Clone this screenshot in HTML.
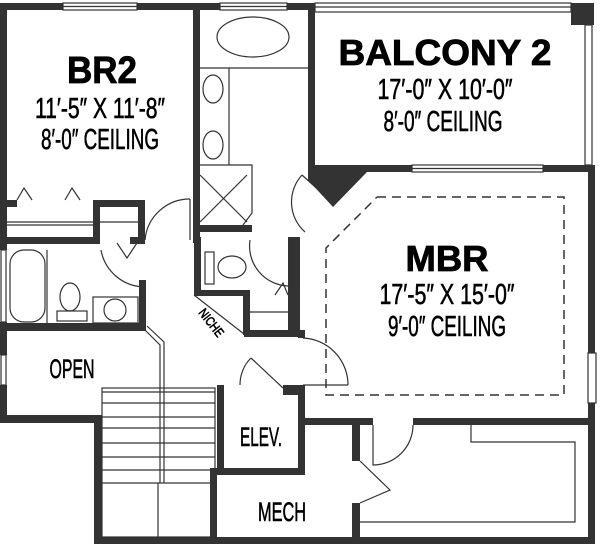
<!DOCTYPE html>
<html><head><meta charset="utf-8"><style>
html,body{margin:0;padding:0;background:#fff;}
svg{display:block;}
text{font-family:"Liberation Sans Narrow","Liberation Sans",sans-serif;fill:#000;stroke:#000;stroke-width:0.6;}
.t{font-weight:bold;font-family:"Liberation Sans",sans-serif;stroke-width:0.8;}
</style></head><body>
<svg width="601" height="548" viewBox="0 0 601 548" xmlns="http://www.w3.org/2000/svg">
<g fill="#333" stroke="none">
<rect x="0" y="3" width="63" height="7"/>
<rect x="137" y="3" width="83" height="7"/>
<rect x="287" y="3" width="27" height="7"/>
<rect x="0" y="3" width="7" height="247"/>
<rect x="0" y="322" width="7" height="33"/>
<rect x="0" y="385" width="7" height="38"/>
<rect x="193" y="3" width="7" height="240"/>
<rect x="194" y="237" width="7" height="58"/>
<rect x="308" y="3" width="7" height="168"/>
<rect x="571" y="3" width="23" height="22"/>
<rect x="308" y="165" width="104" height="7"/>
<rect x="543" y="165" width="52" height="7"/>
<polygon points="308,167 367,172 333,207 308,180"/>
<rect x="588" y="165" width="7" height="188"/>
<rect x="588" y="403" width="7" height="140"/>
<rect x="0" y="200" width="17" height="7"/>
<rect x="93" y="200" width="52" height="7"/>
<rect x="93" y="200" width="7" height="43"/>
<rect x="138" y="200" width="7" height="43"/>
<rect x="0" y="237" width="100" height="7"/>
<rect x="130" y="237" width="15" height="7"/>
<rect x="139" y="280" width="7" height="50"/>
<rect x="0" y="323" width="146" height="8"/>
<rect x="0" y="415" width="102" height="8"/>
<rect x="94" y="415" width="8" height="128"/>
<rect x="94" y="537" width="501" height="7"/>
<rect x="194" y="290" width="50" height="6"/>
<rect x="243" y="290" width="7" height="45"/>
<rect x="244" y="330" width="60" height="7"/>
<rect x="288" y="237" width="12" height="100"/>
<rect x="200" y="225" width="52" height="7"/>
<rect x="298" y="330" width="7" height="8"/>
<rect x="298" y="385" width="7" height="90"/>
<rect x="283" y="385" width="20" height="10"/>
<rect x="217" y="385" width="7" height="90"/>
<rect x="217" y="468" width="87" height="7"/>
<rect x="298" y="418" width="75" height="7"/>
<rect x="413" y="418" width="182" height="7"/>
<rect x="352" y="418" width="8" height="43"/>
<rect x="352" y="503" width="8" height="40"/>
<rect x="210" y="468" width="7" height="75"/>
</g>
<g fill="none" stroke="#333" stroke-width="1.2">
<rect x="63" y="3" width="74" height="7"/><line x1="63" y1="6.5" x2="137" y2="6.5"/>
<rect x="220" y="3" width="67" height="7"/><line x1="220" y1="6.5" x2="287" y2="6.5"/>
<rect x="315" y="3" width="256" height="9"/><line x1="315" y1="7" x2="571" y2="7"/>
<rect x="585" y="25" width="7" height="140"/>
<rect x="412" y="165" width="131" height="7"/><line x1="412" y1="168.5" x2="543" y2="168.5"/>
<rect x="588" y="353" width="8" height="50"/>
<rect x="1" y="250" width="5" height="72"/>
<rect x="1" y="355" width="5" height="30"/>
<line x1="7" y1="222" x2="93" y2="222"/><line x1="7" y1="225" x2="93" y2="225"/>
<line x1="100" y1="222" x2="138" y2="222"/>
<polyline points="17,200 24,188 32,200"/><polyline points="65,200 72,188 80,200"/>
<path d="M145,240 A45,45 0 0 1 190,199"/><line x1="190" y1="199" x2="190" y2="240"/>
<path d="M101,250 A45,45 0 0 0 144,287"/><polyline points="117,243 127,258 137,243"/>
<rect x="10" y="250" width="35" height="72" rx="14"/>
<ellipse cx="70" cy="297" rx="10" ry="14"/><rect x="57" y="311" width="30" height="10"/>
<rect x="93" y="297" width="45" height="26"/><circle cx="115" cy="310" r="11"/>
<line x1="47" y1="250" x2="47" y2="323"/>
<ellipse cx="253" cy="37" rx="36" ry="20"/>
<line x1="200" y1="68" x2="308" y2="68"/>
<line x1="229" y1="68" x2="229" y2="165"/>
<ellipse cx="213" cy="89" rx="10" ry="14"/><ellipse cx="213" cy="145" rx="10" ry="14"/>
<polyline points="200,165 252,165 252,213 243,225"/>
<line x1="200" y1="175" x2="247" y2="222"/><line x1="247" y1="175" x2="200" y2="222"/>
<rect x="205" y="252" width="9" height="32"/><ellipse cx="232" cy="267" rx="14" ry="11"/>
<path d="M250,240 A40,40 0 0 0 288,286"/><polyline points="275,295 283,283 288,295"/>
<rect x="292" y="240" width="6" height="50"/>
<line x1="250" y1="312" x2="288" y2="312"/>
<line x1="194" y1="295" x2="244" y2="334"/>
<line x1="302" y1="175" x2="333" y2="203"/><path d="M302,175 A40,40 0 0 0 305,232"/>
<polyline points="377,197 564,197 564,395 326,395 326,248 377,197" stroke-dasharray="9,6" stroke-width="1.5"/>
<path d="M303,338 A47,47 0 0 1 348,385"/><line x1="303" y1="385" x2="348" y2="385"/>
<path d="M240,385 A30,35 0 0 1 251,358"/><line x1="251" y1="358" x2="283" y2="388"/>
<polyline points="145,330 160,345 160,483"/><polyline points="147,326 164,342 164,483"/>
<rect x="102" y="388" width="113" height="149"/>
<line x1="102" y1="392" x2="215" y2="392"/>
<line x1="102" y1="403" x2="215" y2="403"/><line x1="102" y1="417" x2="215" y2="417"/>
<line x1="102" y1="428" x2="215" y2="428"/><line x1="102" y1="443" x2="215" y2="443"/>
<line x1="102" y1="457" x2="215" y2="457"/><line x1="102" y1="470" x2="215" y2="470"/>
<line x1="102" y1="483" x2="215" y2="483"/><line x1="158" y1="483" x2="158" y2="537"/>
<polyline points="360,461 390,490 360,503"/>
<path d="M373,425 L373,465 A40,40 0 0 0 413,425"/>
<polyline points="471,425 471,442 575,442 575,522 360,522"/>
</g>
<text class="t" x="102" y="83" font-size="38" text-anchor="middle" textLength="70" lengthAdjust="spacingAndGlyphs">BR2</text>
<text x="100" y="118" font-size="29" text-anchor="middle" textLength="130" lengthAdjust="spacingAndGlyphs">11′-5″ X 11′-8″</text>
<text x="100" y="149" font-size="29" text-anchor="middle" textLength="118" lengthAdjust="spacingAndGlyphs">8′-0″ CEILING</text>
<text class="t" x="445" y="65" font-size="36" text-anchor="middle" textLength="213" lengthAdjust="spacingAndGlyphs">BALCONY 2</text>
<text x="445" y="99" font-size="29" text-anchor="middle" textLength="135" lengthAdjust="spacingAndGlyphs">17′-0″ X 10′-0″</text>
<text x="443" y="131" font-size="29" text-anchor="middle" textLength="119" lengthAdjust="spacingAndGlyphs">8′-0″ CEILING</text>
<text class="t" x="447" y="271" font-size="36" text-anchor="middle" textLength="83" lengthAdjust="spacingAndGlyphs">MBR</text>
<text x="447" y="304" font-size="29" text-anchor="middle" textLength="135" lengthAdjust="spacingAndGlyphs">17′-5″ X 15′-0″</text>
<text x="447" y="336" font-size="29" text-anchor="middle" textLength="118" lengthAdjust="spacingAndGlyphs">9′-0″ CEILING</text>
<text x="72" y="378" font-size="27" text-anchor="middle" textLength="45" lengthAdjust="spacingAndGlyphs">OPEN</text>
<text x="261" y="446" font-size="27" text-anchor="middle" textLength="42" lengthAdjust="spacingAndGlyphs">ELEV.</text>
<text x="282" y="521" font-size="27" text-anchor="middle" textLength="48" lengthAdjust="spacingAndGlyphs">MECH</text>
<text x="211" y="327" font-size="13" text-anchor="middle" transform="rotate(52 211 323)" textLength="32" lengthAdjust="spacingAndGlyphs">NICHE</text>
</svg>
</body></html>
